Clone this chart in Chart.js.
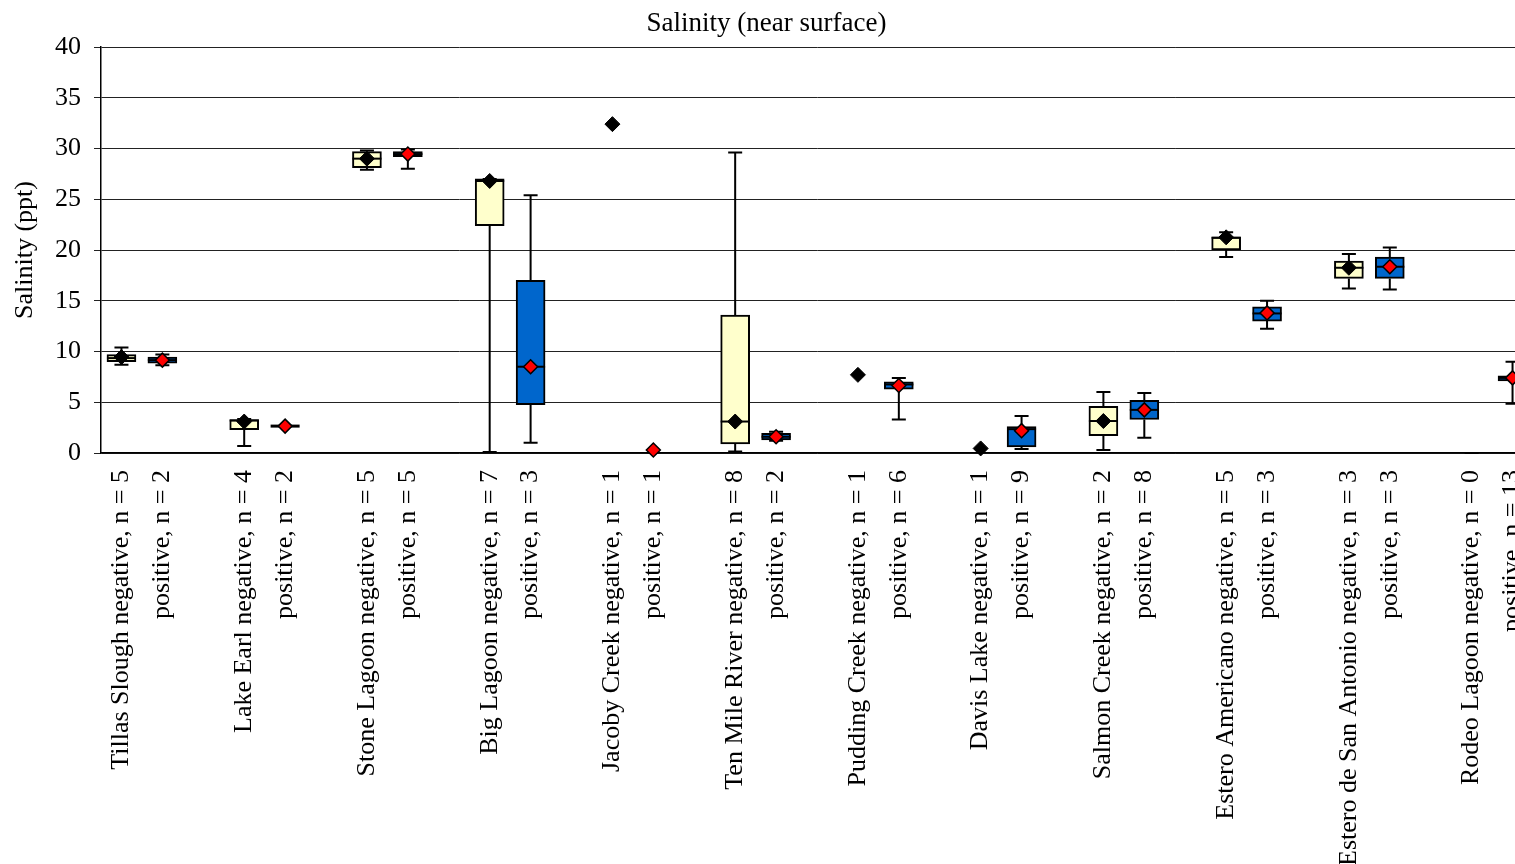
<!DOCTYPE html>
<html>
<head>
<meta charset="utf-8">
<script src="https://cdn.jsdelivr.net/npm/chart.js@4/dist/chart.umd.min.js"></script>
<style>
html, body { margin: 0; padding: 0; background: #fff; overflow: hidden; }
#wrap { width: 1533px; height: 864px; }
</style>
</head>
<body>
<div id="wrap"><canvas id="c" width="1533" height="864"></canvas></div>
<script>
// ---- data ----
const sites = ['Tillas Slough', 'Lake Earl', 'Stone Lagoon', 'Big Lagoon', 'Jacoby Creek', 'Ten Mile River',
  'Pudding Creek', 'Davis Lake', 'Salmon Creek', 'Estero Americano', 'Estero de San Antonio', 'Rodeo Lagoon'];
const negN = [5, 4, 5, 7, 1, 8, 1, 1, 2, 5, 3, 0];
const posN = [2, 2, 5, 3, 1, 2, 6, 9, 8, 3, 3, 13];

const negMin  = [8.7, 0.7, 27.9, 0.1, null, 0.15, null, null, 0.3, 19.3, 16.2, 0];
const negQ1   = [9.0, 2.3, 28.1, 22.4, null, 0.9, null, null, 1.7, 20.0, 17.2, null];
const negMed  = [9.35, 3.2, 29.0, 26.8, null, 3.1, null, null, 3.15, 21.2, 18.25, null];
const negQ3   = [9.7, 3.3, 29.7, 27.0, null, 13.6, null, null, 4.6, 21.3, 18.9, null];
const negMax  = [10.4, 3.35, 29.8, 27.0, null, 29.6, null, null, 6.0, 21.75, 19.6, 0];
const negMean = [9.45, 3.1, 29.0, 26.8, 32.4, 3.1, 7.7, 0.45, 3.15, 21.25, 18.25, null];

const posMin  = [8.65, 2.65, 28.0, 1.0, null, 1.2, 3.3, 0.4, 1.5, 12.25, 16.1, 4.85];
const posQ1   = [8.85, 2.65, 29.2, 4.75, null, 1.3, 6.3, 0.6, 3.3, 13.0, 17.2, 7.1];
const posMed  = [9.15, 2.65, 29.45, 8.5, null, 1.6, 6.75, 2.35, 4.25, 13.75, 18.35, 7.4];
const posQ3   = [9.45, 2.65, 29.7, 17.0, null, 1.95, 7.0, 2.6, 5.2, 14.4, 19.3, 7.6];
const posMax  = [9.7, 2.65, 29.9, 25.4, null, 2.1, 7.4, 3.65, 5.9, 15.0, 20.25, 9.0];
const posMean = [9.15, 2.65, 29.45, 8.5, 0.3, 1.6, 6.65, 2.2, 4.25, 13.8, 18.35, 7.4];

const yTicks = [0, 5, 10, 15, 20, 25, 30, 35, 40];

// ---- build category slots: negative, positive, gap ----
const labels = [];
const negIdx = [], posIdx = [];
sites.forEach((s, i) => {
  if (i > 0) labels.push('');
  negIdx.push(labels.length); labels.push(s + ' negative, n = ' + negN[i]);
  posIdx.push(labels.length); labels.push('positive, n = ' + posN[i]);
});
function slotArray(idx, fn) {
  const a = labels.map(() => null);
  idx.forEach((k, i) => { a[k] = fn(i); });
  return a;
}
const groups = [
  { idx: negIdx, min: negMin, q1: negQ1, med: negMed, q3: negQ3, max: negMax },
  { idx: posIdx, min: posMin, q1: posQ1, med: posMed, q3: posQ3, max: posMax }
];

const BOX_W = 29, CAP_W = 14;
const whiskerPlugin = {
  id: 'whiskers',
  afterDatasetDraw(chart, args) {
    const g = chart.data.datasets[args.index].boxGroup;
    if (g === undefined) return;
    const grp = groups[g];
    const xs = chart.scales.x, ys = chart.scales.y, ctx = chart.ctx;
    ctx.save();
    ctx.strokeStyle = '#000';
    ctx.lineWidth = 2;
    grp.idx.forEach((k, i) => {
      const x = xs.getPixelForValue(k);
      const mn = grp.min[i], mx = grp.max[i], q1 = grp.q1[i], q3 = grp.q3[i], md = grp.med[i];
      if (mn === null) return;
      const yMin = ys.getPixelForValue(mn), yMax = ys.getPixelForValue(mx);
      ctx.beginPath();
      if (q1 !== null) {
        const yQ1 = ys.getPixelForValue(q1), yQ3 = ys.getPixelForValue(q3);
        ctx.moveTo(x, yMin); ctx.lineTo(x, yQ1);
        ctx.moveTo(x, yQ3); ctx.lineTo(x, yMax);
      } else {
        ctx.moveTo(x, yMin); ctx.lineTo(x, yMax);
      }
      ctx.moveTo(x - CAP_W / 2, yMin); ctx.lineTo(x + CAP_W / 2, yMin);
      ctx.moveTo(x - CAP_W / 2, yMax); ctx.lineTo(x + CAP_W / 2, yMax);
      ctx.stroke();
      if (md !== null) {
        const yMd = ys.getPixelForValue(md);
        ctx.beginPath();
        ctx.lineWidth = (q1 === q3) ? 3 : 2;
        ctx.moveTo(x - BOX_W / 2, yMd); ctx.lineTo(x + BOX_W / 2, yMd);
        ctx.stroke();
        ctx.lineWidth = 2;
      }
    });
    ctx.restore();
  }
};

const serif = 'Liberation Serif';

new Chart(document.getElementById('c'), {
  type: 'bar',
  data: {
    labels: labels,
    datasets: [
      {
        type: 'line', label: 'negative mean', showLine: false,
        data: slotArray(negIdx, i => negMean[i]),
        pointStyle: 'rectRot', pointRadius: 7.5, pointBackgroundColor: '#000', pointBorderColor: '#000', pointBorderWidth: 1,
        clip: false
      },
      {
        type: 'line', label: 'positive mean', showLine: false,
        data: slotArray(posIdx, i => posMean[i]),
        pointStyle: 'rectRot', pointRadius: 7, pointBackgroundColor: '#FF0000', pointBorderColor: '#000', pointBorderWidth: 1.5,
        clip: false
      },
      {
        label: 'negative', boxGroup: 0, grouped: false,
        data: slotArray(negIdx, i => negQ1[i] === null ? null : [negQ1[i], negQ3[i]]),
        backgroundColor: '#FFFFCC', borderColor: '#000', borderWidth: 2, borderSkipped: false,
        barThickness: BOX_W
      },
      {
        label: 'positive', boxGroup: 1, grouped: false,
        data: slotArray(posIdx, i => posQ1[i] === null ? null : [posQ1[i], posQ3[i]]),
        backgroundColor: '#0066CC', borderColor: '#000', borderWidth: 2, borderSkipped: false,
        barThickness: BOX_W
      }
    ]
  },
  options: {
    responsive: false,
    animation: false,
    events: [],
    devicePixelRatio: 1,
    layout: { padding: 0, autoPadding: false },
    plugins: {
      legend: { display: false },
      tooltip: { enabled: false },
      title: {
        display: true,
        text: 'Salinity (near surface)',
        color: '#000',
        font: { family: serif, size: 27, weight: 'normal' },
        padding: { top: 8, bottom: 6.6 }
      }
    },
    scales: {
      x: {
        type: 'category',
        offset: true,
        grid: { display: false, drawTicks: false },
        border: { display: true, color: '#000', width: 1.5 },
        ticks: {
          autoSkip: false, maxRotation: 90, minRotation: 90,
          color: '#000', padding: 17,
          font: { family: serif, size: 26 }
        },
        afterFit(scale) { scale.height = 411; scale.paddingLeft = 0; scale.paddingRight = 0; }
      },
      y: {
        min: 0, max: 40,
        afterBuildTicks(scale) { scale.ticks = yTicks.map(v => ({ value: v })); },
        grid: { color: '#222', lineWidth: 1, drawTicks: true, tickLength: 7 },
        border: { display: true, color: '#000', width: 1.5 },
        ticks: { color: '#000', padding: 13, font: { family: serif, size: 26 } },
        title: {
          display: true, text: 'Salinity (ppt)', color: '#000',
          font: { family: serif, size: 26 },
          padding: { top: 10, bottom: 0 }
        },
        afterFit(scale) { scale.width = 101; }
      }
    }
  },
  plugins: [whiskerPlugin]
});
</script>
</body>
</html>
